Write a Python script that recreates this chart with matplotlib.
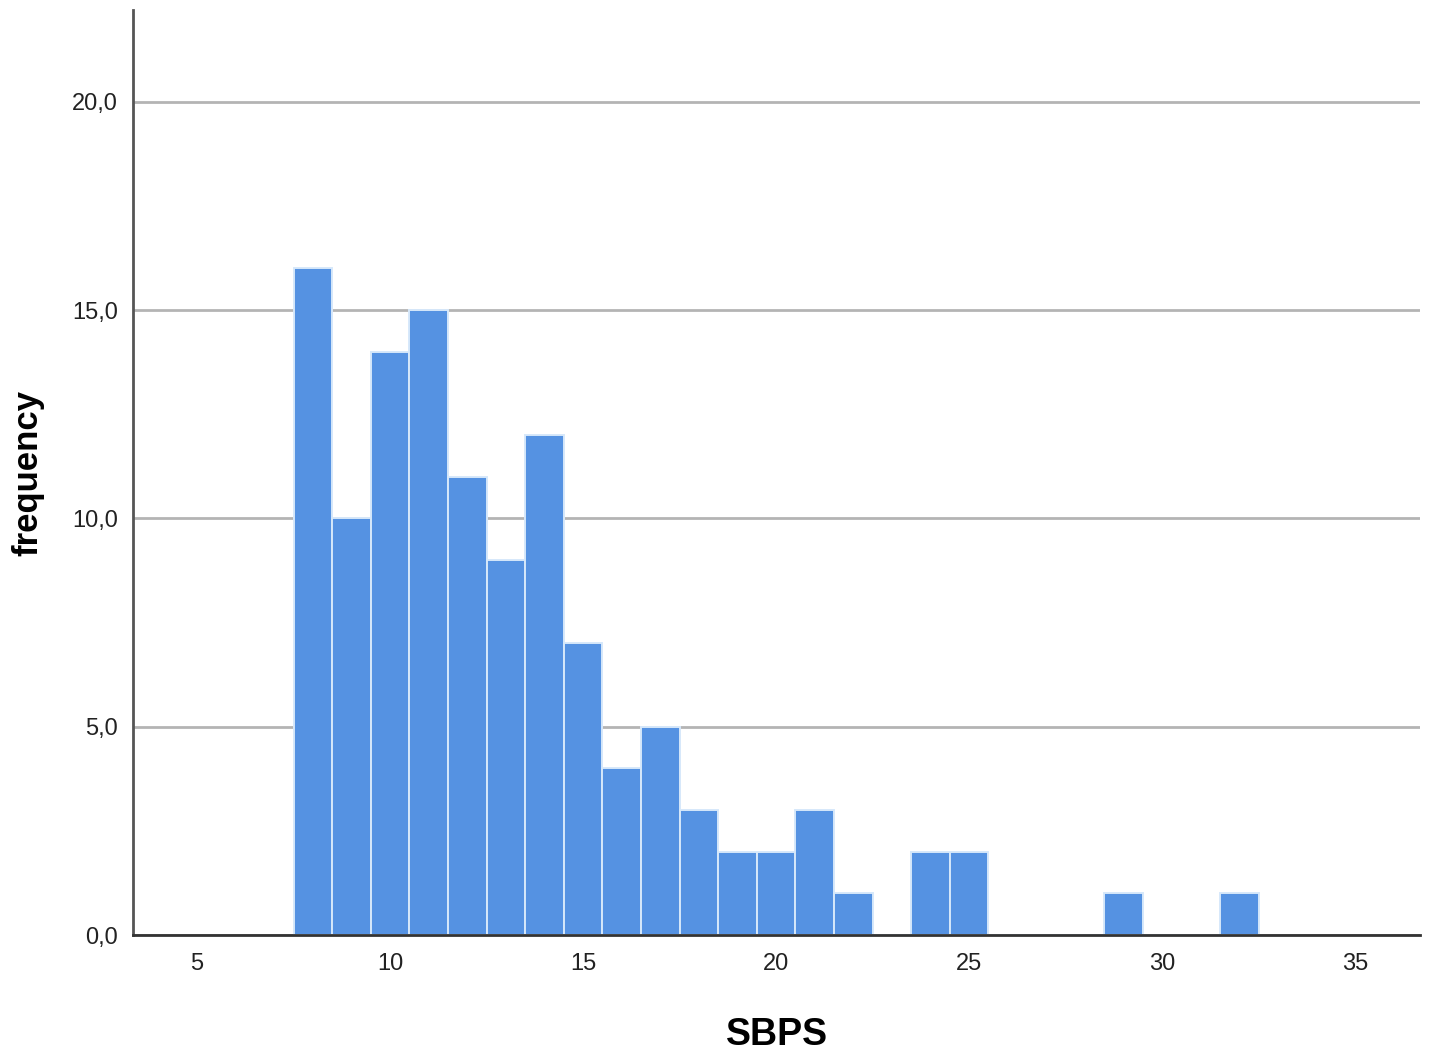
import matplotlib
matplotlib.use("Agg")
import matplotlib.pyplot as plt

centers = [8, 9, 10, 11, 12, 13, 14, 15, 16, 17, 18, 19, 20, 21, 22, 23, 24, 25, 26, 27, 28, 29, 30, 31, 32]
counts = [16, 10, 14, 15, 11, 9, 12, 7, 4, 5, 3, 2, 2, 3, 1, 0, 2, 2, 0, 0, 0, 1, 0, 0, 1]
xticks = [5, 10, 15, 20, 25, 30, 35]
yticks = [0, 5, 10, 15, 20]
ytick_labels = ["0,0", "5,0", "10,0", "15,0", "20,0"]

plt.rcParams['font.family'] = ['Liberation Sans', 'DejaVu Sans']

fig = plt.figure(figsize=(14.29, 10.52), dpi=100)
ax = fig.add_axes([0.0931, 0.1112, 0.9006, 0.8793])

ax.bar(centers, counts, width=1.0, color='#5592e2', edgecolor='#d6e8fa', linewidth=1.4, zorder=3)

ax.set_xlim(3.34, 36.68)
ax.set_ylim(0, 22.2)
ax.set_xticks(xticks)
ax.set_xticklabels([str(t) for t in xticks])
ax.set_yticks(yticks)
ax.set_yticklabels(ytick_labels)
ax.tick_params(axis='both', length=0, labelsize=17, colors='#222222')
ax.tick_params(axis='x', pad=13)
ax.tick_params(axis='y', pad=11)

ax.yaxis.grid(True, color='#b4b4b4', linewidth=2, zorder=0)
ax.set_axisbelow(True)
for s in ['top', 'right']:
    ax.spines[s].set_visible(False)
ax.spines['left'].set_color('#555555')
ax.spines['left'].set_linewidth(2)
ax.spines['bottom'].set_color('#333333')
ax.spines['bottom'].set_linewidth(2)
ax.spines['bottom'].set_zorder(4)

ax.set_xlabel('SBPS', fontsize=27, fontweight='bold', labelpad=30)
ax.set_ylabel('frequency', fontsize=25, fontweight='bold', labelpad=20)

fig.savefig('out.png', dpi=100)
